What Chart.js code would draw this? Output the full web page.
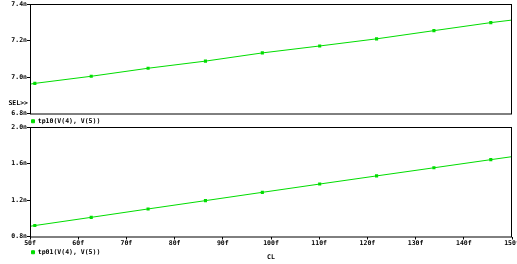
<!DOCTYPE html>
<html>
<head>
<meta charset="utf-8">
<script src="https://cdn.jsdelivr.net/npm/chart.js@4"></script>
<style>
  html, body { margin: 0; padding: 0; background: #fff; }
  #wrap { position: relative; width: 517px; height: 264px; }
  #c1 { position: absolute; left: 0; top: 0; }
  #c2 { position: absolute; left: 0; top: 123px; }
</style>
</head>
<body>
<div id="wrap">
  <canvas id="c1" width="517" height="125"></canvas>
  <canvas id="c2" width="517" height="141"></canvas>
</div>
<script>
// du lieu doc tu hinh ==================================================
const capacitance = [50, 51, 62.7, 74.5, 86.4, 98.2, 110.1, 121.9, 133.8, 145.6, 150];
const tp10 = [6.961, 6.965, 7.004, 7.048, 7.087, 7.132, 7.170, 7.209, 7.254, 7.298, 7.312];
const tp01 = [0.912, 0.920, 1.010, 1.102, 1.193, 1.284, 1.375, 1.464, 1.553, 1.642, 1.675];
const xTicks = [50, 60, 70, 80, 90, 100, 110, 120, 130, 140, 150];
const topTicks = [6.8, 7.0, 7.2, 7.4];
const bottomTicks = [0.8, 1.2, 1.6, 2.0];

const green = "#00dd00";
const font = { family: "DejaVu Sans Mono", size: 6.5, weight: "bold" };
// diem dau va cuoi khong co marker
const radii = capacitance.map((c, i) => (i === 0 || i === capacitance.length - 1 ? 0 : 2.2));

const toPoints = (ys) => capacitance.map((x, i) => ({ x: x, y: ys[i] }));

// khung bao quanh vung ve
const framePlugin = {
  id: "frame",
  afterDraw(chart, args, opts) {
    const { ctx, chartArea: a } = chart;
    ctx.save();
    ctx.strokeStyle = "#000";
    ctx.lineWidth = 1;
    ctx.strokeRect(a.left + 0.5, a.top + 0.5, a.right - a.left - 1, a.bottom - a.top);
    if (opts.sel) {
      ctx.font = "bold 6.5px 'DejaVu Sans Mono'";
      ctx.fillStyle = "#000";
      ctx.textAlign = "right";
      ctx.textBaseline = "middle";
      ctx.fillText("SEL>>", 28, 103);
    }
    ctx.restore();
  },
};

// legend cua Chart.js cong them 10px, bo di cho sat
const legendFix = {
  id: "legendFix",
  afterInit(chart) {
    const fit = chart.legend.fit;
    chart.legend.fit = function () {
      fit.call(this);
      this.height -= 10;
    };
  },
};

const yAxis = (ticks) => ({
  type: "linear",
  min: ticks[0],
  max: ticks[ticks.length - 1],
  afterFit: (s) => { s.width = 30; },
  afterBuildTicks: (s) => { s.ticks = ticks.map((v) => ({ value: v })); },
  border: { display: false },
  grid: { drawOnChartArea: false, drawTicks: true, tickLength: 3, color: "#000" },
  ticks: {
    padding: 0,
    color: "#000",
    font: font,
    callback: (v) => v.toFixed(1) + "n",
  },
});

const legendOpts = {
  display: true,
  position: "bottom",
  align: "start",
  fullSize: false,
  labels: { boxWidth: 3, boxHeight: 3, padding: 1.5, color: "#000", font: font },
};

// Bieu do tren
new Chart(document.getElementById("c1"), {
  type: "line",
  data: {
    datasets: [
      {
        label: "tp10(V(4), V(5))",
        data: toPoints(tp10),
        borderColor: green,
        backgroundColor: green,
        borderWidth: 1,
        pointStyle: "rect",
        pointRadius: radii,
        pointBorderWidth: 0,
        tension: 0,
      },
    ],
  },
  options: {
    responsive: false,
    animation: false,
    layout: { padding: { top: 4, right: 5, left: 0, bottom: 0.5 } },
    scales: {
      x: {
        type: "linear",
        min: 50,
        max: 150,
        afterFit: (s) => { s.height = 3; s.paddingLeft = 0; s.paddingRight = 0; },
        border: { display: false },
        grid: { display: false },
        ticks: { display: false },
      },
      y: yAxis(topTicks),
    },
    plugins: {
      legend: legendOpts,
      tooltip: { enabled: false },
      frame: { sel: true },
    },
  },
  plugins: [legendFix, framePlugin],
});

// Bieu do duoi
new Chart(document.getElementById("c2"), {
  type: "line",
  data: {
    datasets: [
      {
        label: "tp01(V(4), V(5))",
        data: toPoints(tp01),
        borderColor: green,
        backgroundColor: green,
        borderWidth: 1,
        pointStyle: "rect",
        pointRadius: radii,
        pointBorderWidth: 0,
        tension: 0,
      },
    ],
  },
  options: {
    responsive: false,
    animation: false,
    layout: { padding: { top: 4, right: 5, left: 0, bottom: 2.7 } },
    scales: {
      x: {
        type: "linear",
        min: xTicks[0],
        max: xTicks[xTicks.length - 1],
        afterFit: (s) => { s.height = 11; s.paddingLeft = 0; s.paddingRight = 0; },
        afterBuildTicks: (s) => { s.ticks = xTicks.map((v) => ({ value: v })); },
        border: { display: false },
        grid: { drawOnChartArea: false, drawTicks: true, tickLength: 3, color: "#000" },
        ticks: {
          padding: 0,
          autoSkip: false,
          maxRotation: 0,
          color: "#000",
          font: font,
          callback: (v) => v + "f",
        },
      },
      y: yAxis(bottomTicks),
    },
    plugins: {
      legend: legendOpts,
      title: {
        display: true,
        text: "CL",
        position: "bottom",
        fullSize: false,
        color: "#000",
        font: font,
        padding: { top: -2, bottom: 0 },
      },
      tooltip: { enabled: false },
      frame: { sel: false },
    },
  },
  plugins: [legendFix, framePlugin],
});
</script>
</body>
</html>
